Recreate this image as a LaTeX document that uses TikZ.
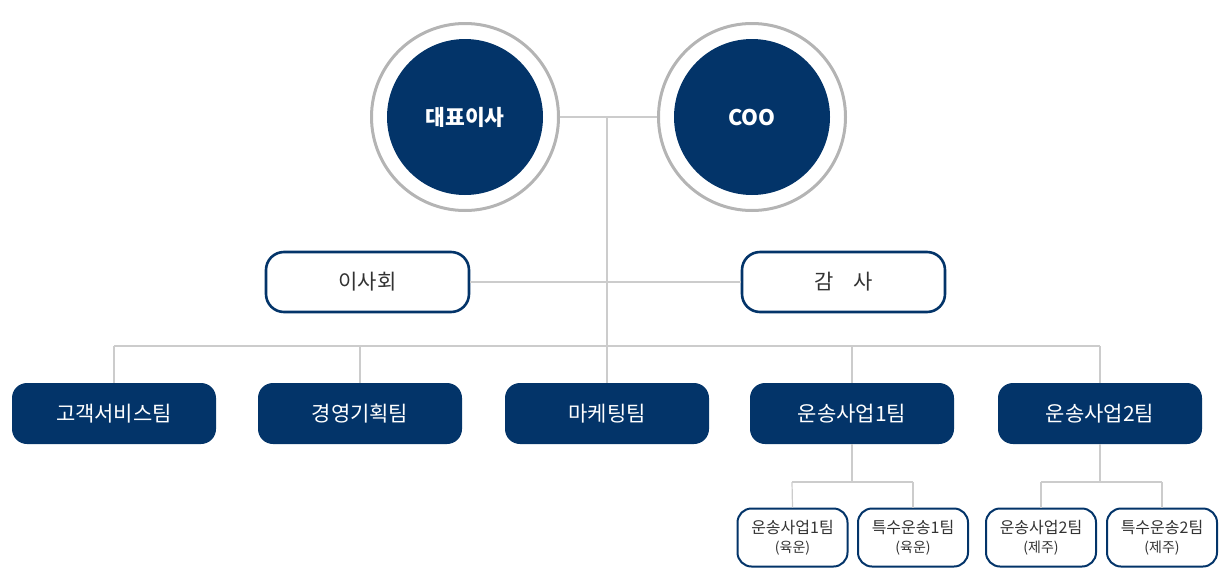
\documentclass[tikz,border=0pt]{standalone}
\usepackage{fontspec}
\setmainfont{Noto Sans CJK KR}
\definecolor{navy}{RGB}{3,52,105}
\definecolor{ring}{RGB}{180,180,180}
\definecolor{conn}{RGB}{204,204,204}
\definecolor{txt}{RGB}{51,51,51}
\newcommand\subtxt[1]{{\fontsize{14}{16}\selectfont #1}}
\tikzset{
  inner/.style={circle,fill=navy,minimum size=156pt,inner sep=0pt,text=white,font=\fontsize{21.5}{24}\selectfont\bfseries},
  outer/.style={circle,draw=ring,line width=3pt,minimum size=187pt,inner sep=0pt},
  wbox/.style={rectangle,rounded corners=18pt,draw=navy,line width=2.6pt,fill=white,minimum width=203pt,minimum height=60pt,inner sep=0pt,text=txt,font=\fontsize{21}{24}\selectfont},
  nbox/.style={rectangle,rounded corners=15pt,fill=navy,minimum width=204pt,minimum height=61pt,inner sep=0pt,text=white,font=\fontsize{21}{24}\selectfont},
  sbox/.style={rectangle,rounded corners=14pt,draw=navy,line width=2pt,fill=white,minimum width=110pt,minimum height=58pt,inner sep=0pt,text=txt,align=center,font=\fontsize{16}{18}\selectfont},
  conline/.style={draw=conn,line width=1.2pt}
}
\begin{document}
\begin{tikzpicture}[x=1pt,y=-1pt]
\useasboundingbox (0,0) rectangle (1232,587);
\coordinate (top) at (607,117);
\coordinate (bus) at (607,346);
\coordinate (busL) at (114,346);
\coordinate (busR) at (1100,346);
\coordinate (b2) at (360,346);
\coordinate (b4) at (852,346);
\coordinate (s1) at (852,482);
\coordinate (s1L) at (792,482);
\coordinate (s1R) at (913,482);
\coordinate (s2) at (1100,482);
\coordinate (s2L) at (1041,482);
\coordinate (s2R) at (1162,482);

\node[outer] (ceoR) at (465,117) {};
\node[outer] (cooR) at (752,117) {};
\node[inner] (ceo) at (465,117) {대표이사};
\node[inner] (coo) at (752,117) {COO};

\node[wbox] (board) at (367.5,282) {이사회};
\node[wbox] (audit) at (843.5,282) {감\hspace{20pt}사};

\node[nbox] (t1) at (114,413.5) {고객서비스팀};
\node[nbox] (t2) at (360,413.5) {경영기획팀};
\node[nbox] (t3) at (607,413.5) {마케팅팀};
\node[nbox] (t4) at (852,413.5) {운송사업1팀};
\node[nbox] (t5) at (1100,413.5) {운송사업2팀};

\node[sbox] (u1) at (792.5,537.5) {운송사업1팀\\[1pt]\subtxt{(육운)}};
\node[sbox] (u2) at (913,537.5) {특수운송1팀\\[1pt]\subtxt{(육운)}};
\node[sbox] (u3) at (1041,537.5) {운송사업2팀\\[1pt]\subtxt{(제주)}};
\node[sbox] (u4) at (1162,537.5) {특수운송2팀\\[1pt]\subtxt{(제주)}};

\path[conline] (ceoR.east) -- (cooR.west);
\path[conline] (top) -- (bus);
\path[conline] (board.east) -- (audit.west);
\path[conline] (busL) -- (busR);
\path[conline] (busL) -- (t1.north);
\path[conline] (b2) -- (t2.north);
\path[conline] (bus) -- (t3.north);
\path[conline] (b4) -- (t4.north);
\path[conline] (busR) -- (t5.north);
\path[conline] (t4.south) -- (s1);
\path[conline] (s1L) -- (s1R);
\path[conline] (s1L) -- (u1.north);
\path[conline] (s1R) -- (u2.north);
\path[conline] (t5.south) -- (s2);
\path[conline] (s2L) -- (s2R);
\path[conline] (s2L) -- (u3.north);
\path[conline] (s2R) -- (u4.north);
\end{tikzpicture}
\end{document}
